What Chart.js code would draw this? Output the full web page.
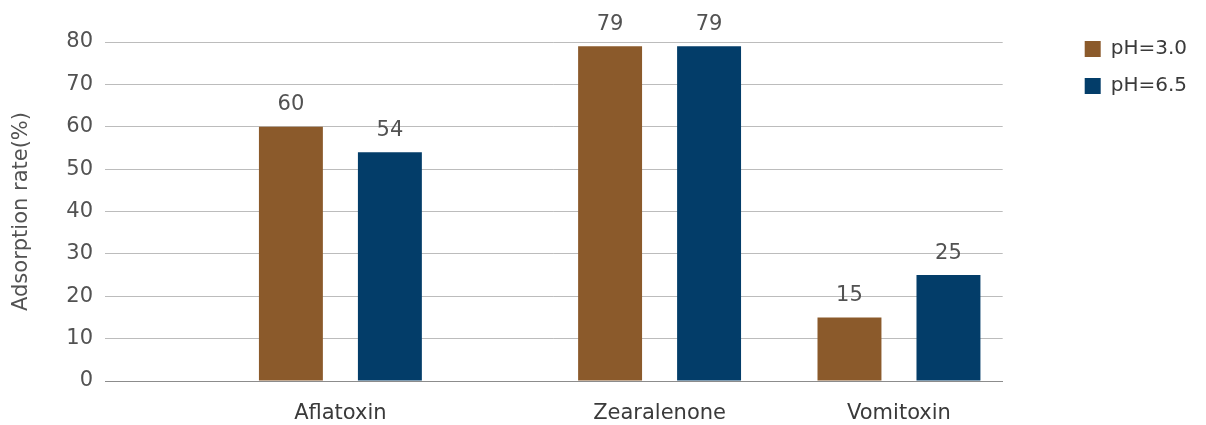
<!DOCTYPE html>
<html>
<head>
<meta charset="utf-8">
<title>Adsorption rate</title>
<script src="https://cdn.jsdelivr.net/npm/chart.js@4.4.1/dist/chart.umd.min.js"></script>
<style>
  html, body { margin: 0; padding: 0; background: #ffffff; }
  #wrap { width: 1206px; height: 425px; }
</style>
</head>
<body>
<div id="wrap"><canvas id="adsorption-chart" width="1206" height="425"></canvas></div>
<script>
const toxins = ["Aflatoxin", "Zearalenone", "Vomitoxin"];
// group centres along the x axis (the groups are not evenly spaced)
const toxinSlots = [3, 7, 10];
const ph30Rates = [60, 79, 15];
const ph65Rates = [54, 79, 25];
const seriesNames = ["pH=3.0", "pH=6.5"];

const fontFamily = "'DejaVu Sans', sans-serif";
const fontSize = 21;
const brown = "#8b5a2b";
const navy = "#033d69";
const tickColor = "#525252";
const labelColor = "#3a3a3a";
const gridColor = "#bcbcbc";
const baseLineColor = "#8c8c8c";

function toPoints(values) {
  return toxinSlots.map((x, i) => ({ x, y: values[i] }));
}

// writes each bar's value just above it
const valueLabels = {
  id: "valueLabels",
  afterDatasetsDraw(chart) {
    const { ctx } = chart;
    ctx.save();
    ctx.font = `${fontSize}px ${fontFamily}`;
    ctx.fillStyle = tickColor;
    ctx.textAlign = "center";
    ctx.textBaseline = "middle";
    chart.data.datasets.forEach((dataset, i) => {
      chart.getDatasetMeta(i).data.forEach((bar, j) => {
        ctx.fillText(String(dataset.data[j].y), bar.x, bar.y - 22);
      });
    });
    ctx.restore();
  },
};

function init() {
  const ctx = document.getElementById("adsorption-chart").getContext("2d");
  new Chart(ctx, {
    type: "bar",
    data: {
      datasets: [
        {
          label: seriesNames[0],
          data: toPoints(ph30Rates),
          backgroundColor: brown,
          borderWidth: 0,
        },
        {
          label: seriesNames[1],
          data: toPoints(ph65Rates),
          backgroundColor: navy,
          borderWidth: 0,
        },
      ],
    },
    options: {
      responsive: false,
      devicePixelRatio: 1,
      animation: false,
      categoryPercentage: 0.827,
      barPercentage: 0.646,
      layout: {
        padding: { top: 22, right: 9, bottom: 0, left: 0 },
      },
      scales: {
        x: {
          type: "linear",
          position: "bottom",
          min: 0.05,
          max: 11.3,
          offset: false,
          grid: { display: false, offset: false },
          border: { display: true, color: baseLineColor, width: 1 },
          afterBuildTicks: (axis) => {
            axis.ticks = toxinSlots.map((value) => ({ value }));
          },
          afterFit: (axis) => {
            axis.height = 44;
          },
          ticks: {
            autoSkip: false,
            maxRotation: 0,
            padding: 12,
            color: labelColor,
            font: { family: fontFamily, size: fontSize },
            callback: (value, index) => toxins[index],
          },
        },
        // spacer above the plot
        xTop: {
          type: "linear",
          position: "top",
          grid: { display: false },
          border: { display: false },
          ticks: { display: false },
          afterFit: (axis) => {
            axis.height = 20;
          },
        },
        y: {
          min: 0,
          max: 80,
          ticks: {
            stepSize: 10,
            padding: 12,
            color: tickColor,
            font: { family: fontFamily, size: fontSize },
          },
          grid: {
            drawTicks: false,
            color: (c) => (c.tick && c.tick.value === 0 ? baseLineColor : gridColor),
          },
          border: { display: false },
          title: {
            display: true,
            text: "Adsorption rate(%)",
            color: tickColor,
            padding: { top: 9, bottom: 0 },
            font: { family: fontFamily, size: fontSize, lineHeight: 1.2 },
          },
          afterFit: (axis) => {
            axis.width = 105;
          },
        },
        // spacer between the plot and the legend
        yGap: {
          type: "linear",
          position: "right",
          grid: { display: false },
          border: { display: false },
          ticks: { display: false },
          afterFit: (axis) => {
            axis.width = 65;
          },
        },
      },
      plugins: {
        legend: {
          position: "right",
          align: "start",
          labels: {
            boxWidth: 16,
            boxHeight: 16,
            padding: 17,
            color: labelColor,
            font: { family: fontFamily, size: 20 },
          },
        },
        tooltip: { enabled: false },
      },
    },
    plugins: [valueLabels],
  });
}

window.addEventListener("DOMContentLoaded", init);
</script>
</body>
</html>
